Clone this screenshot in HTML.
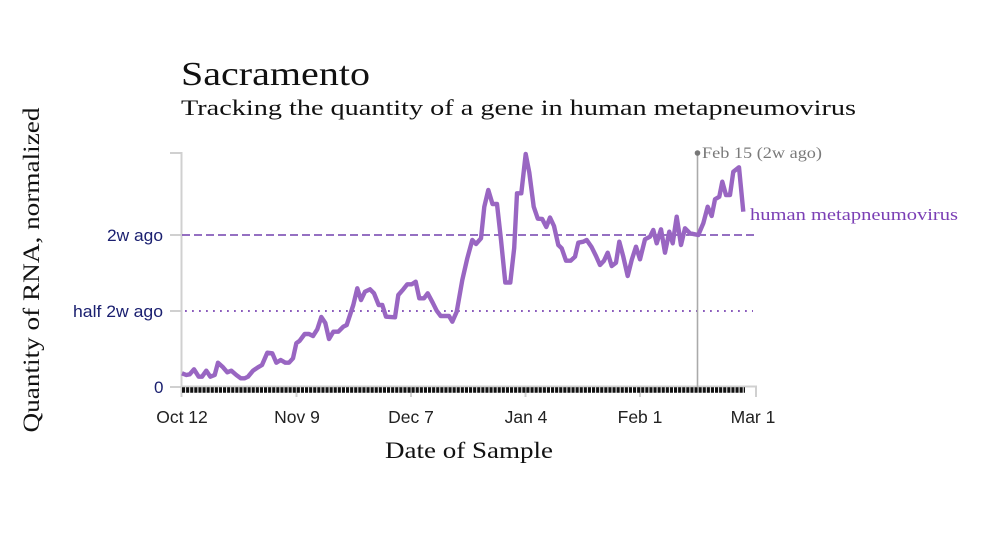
<!DOCTYPE html>
<html>
<head>
<meta charset="utf-8">
<style>
html,body{margin:0;padding:0;background:#fff;}
svg{display:block;}
</style>
</head>
<body>
<svg width="990" height="552" viewBox="0 0 990 552" xmlns="http://www.w3.org/2000/svg">
  <rect x="0" y="0" width="990" height="552" fill="#fff"/>
  <!-- Titles -->
  <text x="181" y="85" font-family="Liberation Serif, serif" font-size="34" fill="#111" textLength="189" lengthAdjust="spacingAndGlyphs">Sacramento</text>
  <text x="181" y="115" font-family="Liberation Serif, serif" font-size="22" fill="#111" textLength="675" lengthAdjust="spacingAndGlyphs">Tracking the quantity of a gene in human metapneumovirus</text>

  <!-- Y axis label -->
  <text transform="translate(39,270) rotate(-90)" text-anchor="middle" font-family="Liberation Serif, serif" font-size="23" fill="#111" textLength="325" lengthAdjust="spacingAndGlyphs">Quantity of RNA, normalized</text>
  <!-- X axis label -->
  <text x="469" y="458" text-anchor="middle" font-family="Liberation Serif, serif" font-size="23" fill="#111" textLength="168" lengthAdjust="spacingAndGlyphs">Date of Sample</text>

  <!-- Axes (gray) -->
  <g stroke="#d0d0d0" stroke-width="2" fill="none">
    <line x1="181.5" y1="152" x2="181.5" y2="397"/>
    <line x1="170" y1="153" x2="182" y2="153"/>
    <line x1="170" y1="235" x2="182" y2="235"/>
    <line x1="170" y1="311" x2="182" y2="311"/>
    <line x1="170" y1="387" x2="182" y2="387"/>
    <line x1="181" y1="386.5" x2="757" y2="386.5"/>
    <line x1="296.5" y1="386" x2="296.5" y2="397"/>
    <line x1="411" y1="386" x2="411" y2="397"/>
    <line x1="525.5" y1="386" x2="525.5" y2="397"/>
    <line x1="640" y1="386" x2="640" y2="397"/>
    <line x1="756" y1="386" x2="756" y2="397"/>
  </g>

  <!-- Y tick labels -->
  <g font-family="Liberation Sans, sans-serif" font-size="17" fill="#1b2070">
    <text x="107" y="241" textLength="56" lengthAdjust="spacingAndGlyphs">2w ago</text>
    <text x="73" y="317" textLength="90" lengthAdjust="spacingAndGlyphs">half 2w ago</text>
    <text x="154" y="393">0</text>
  </g>
  <!-- X tick labels -->
  <g font-family="Liberation Sans, sans-serif" font-size="17.5" fill="#222" text-anchor="middle">
    <text x="182" y="423">Oct 12</text>
    <text x="297" y="423">Nov 9</text>
    <text x="411" y="423">Dec 7</text>
    <text x="526" y="423">Jan 4</text>
    <text x="640" y="423">Feb 1</text>
    <text x="753" y="423">Mar 1</text>
  </g>

  <!-- Reference lines -->
  <line x1="182" y1="235" x2="757" y2="235" stroke="#7240ae" stroke-width="1.6" stroke-dasharray="8 4"/>
  <line x1="185" y1="311" x2="753" y2="311" stroke="#7a45b2" stroke-width="1.8" stroke-dasharray="1.8 5.2"/>

  <!-- Rug ticks -->
  <line x1="182" y1="390" x2="745" y2="390" stroke="#111" stroke-width="5.5" stroke-dasharray="3.1 1"/>

  <!-- Feb 15 marker -->
  <line x1="697.5" y1="153" x2="697.5" y2="387" stroke="#aaaaaa" stroke-width="1.6"/>
  <circle cx="697.5" cy="153" r="2.8" fill="#777"/>
  <text x="702" y="158" font-family="Liberation Serif, serif" font-size="15.5" fill="#7a7a7a" textLength="120" lengthAdjust="spacingAndGlyphs">Feb 15 (2w ago)</text>

  <!-- Series -->
  <polyline fill="none" stroke="#9966c2" stroke-width="4.4" stroke-linejoin="round" stroke-linecap="butt" points="
182,373.3 186.3,375 189.7,374.3 194,369.3 198.7,376.7 202,376.7 206.3,370.7 210.3,376.7 214.7,375 218,362.7
223,367.3 227.3,372.3 231.3,370.7 236.3,375 240.7,378.3 244.7,378.3 248,376.7 253,370.7 258,367.3 262,365
267.3,352.7 272.3,353.3 276.3,362.7 280.7,360 285.3,362.7 289,362.7 293,358.3 296.3,343.3 299.7,340.7 304.7,334
309,334 313,336 317.3,329.3 321.3,317 325.3,323 329,339 333.3,331.7 338.3,331.7 343.3,326.7 346.7,325
353.3,305 357.3,288.3 361,300 365,291.7 370,289.3 374,293.3 378.7,305 382.3,305 386,316.7 395,317.3
398.3,295 403.3,289.3 407.3,284.3 411.7,284.3 415.7,281.7 419.3,298.3 424,298.3 427.7,293.3 432.7,302.7 436.7,310.7
440.7,316 449,316 452.3,321.7 456.7,311.7 462.3,280 467.3,258.3 472.3,240 476,244 481,238.3 484.3,206.7
488.3,190 492.5,204 497,204 501,240 505.3,282.5 510.3,282.5 514.2,248 517,193.3 521.3,193.3 525.7,154
529.3,172.5 533.7,206.7 537.8,218.7 542.2,219 546.3,227 550,217.5 554,226 558.3,245 561.7,248.3 566,260.7
570.7,260.7 575,256.7 578.3,242.7 583.3,241.7 586.7,240 591.7,247.3 596,256 600,265 604,260.7 607.7,252.7
611.7,266 616,262.7 619.3,241.7 623.3,256.7 627.7,276 631.7,260 636,246.7 640,259.3 645,239.3 650,236.7
653.3,230 656.7,243.3 661,229.3 665,252.7 669.3,231.7 672.7,243.3 676.7,216.7 681,245 685,228.3 690,233.3
698.3,235 703.3,223.3 707.7,206.7 711.7,216 715,199.3 719.3,196.7 722.3,181.7 726,195 730,195 733.3,171.7
739,167.3 743.3,211.7"/>

  <text x="750" y="220" font-family="Liberation Serif, serif" font-size="16.5" fill="#7b3fb5" textLength="208" lengthAdjust="spacingAndGlyphs">human metapneumovirus</text>
</svg>
</body>
</html>
